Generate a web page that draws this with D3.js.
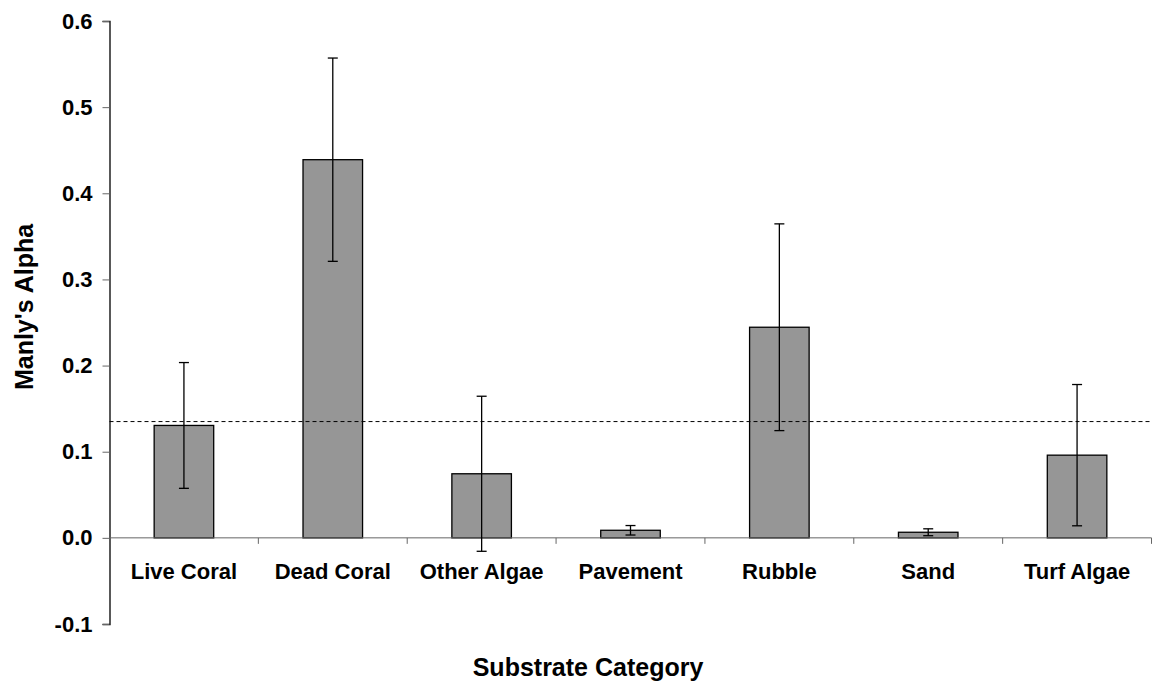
<!DOCTYPE html>
<html>
<head>
<meta charset="utf-8">
<script src="https://cdn.jsdelivr.net/npm/d3@7"></script>
<style>
  html, body { margin: 0; padding: 0; background: #fff; }
  svg text { font-family: "Liberation Sans", Arial, sans-serif; font-weight: bold; fill: #000; }
</style>
</head>
<body>
<svg id="chart" width="1162" height="684"></svg>
<script>
// Substrate selectivity (Manly's alpha) with error half-widths
const categories = ["Live Coral", "Dead Coral", "Other Algae", "Pavement", "Rubble", "Sand", "Turf Algae"];
const alphaValues = [0.1305, 0.439, 0.0744, 0.0088, 0.2445, 0.0065, 0.096];
const errorValues = [0.073, 0.118, 0.090, 0.0055, 0.120, 0.004, 0.082];
const neutralLine = 0.135;
const yTicks = [-0.1, 0.0, 0.1, 0.2, 0.3, 0.4, 0.5, 0.6];

const svg = d3.select("#chart");

const plotLeft = 109.5, plotRight = 1151.5, plotTop = 21, plotBottom = 624;

const y = d3.scaleLinear().domain([-0.1, 0.6]).range([plotBottom, plotTop]);
const x = d3.scaleBand().domain(categories).range([plotLeft, plotRight]).padding(0);
const barW = x.bandwidth() * 0.4;
const capW = 10;
const y0 = y(0);

// Y axis (plain hyphen for negatives)
const yAxis = d3.axisLeft(y)
  .tickValues(yTicks)
  .tickFormat((d) => d.toFixed(1))
  .tickSize(7)
  .tickPadding(10);
const gy = svg.append("g").attr("transform", `translate(${plotLeft},0)`).call(yAxis);
gy.select(".domain").attr("stroke", "#000").attr("stroke-width", 1.3);
gy.selectAll(".tick line").attr("stroke", "#666").attr("stroke-width", 1);
gy.selectAll(".tick text").style("font-size", "22px").attr("fill", "#000");

// Bars
svg.append("g").selectAll("rect")
  .data(categories)
  .join("rect")
  .attr("x", (d) => x(d) + (x.bandwidth() - barW) / 2)
  .attr("y", (d, i) => y(Math.max(0, alphaValues[i])))
  .attr("width", barW)
  .attr("height", (d, i) => Math.abs(y(alphaValues[i]) - y0))
  .attr("fill", "#969696")
  .attr("stroke", "#000")
  .attr("stroke-width", 1.3);

// Category axis at zero
svg.append("line")
  .attr("x1", plotLeft).attr("x2", plotRight)
  .attr("y1", y0).attr("y2", y0)
  .attr("stroke", "#666").attr("stroke-width", 1);
const boundaries = categories.map((d) => x(d) + x.bandwidth());
svg.append("g").selectAll("line")
  .data(boundaries)
  .join("line")
  .attr("x1", (d) => d).attr("x2", (d) => d)
  .attr("y1", y0).attr("y2", y0 + 6)
  .attr("stroke", "#666").attr("stroke-width", 1);

// Reference line
svg.append("line")
  .attr("x1", plotLeft).attr("x2", plotRight)
  .attr("y1", y(neutralLine)).attr("y2", y(neutralLine))
  .attr("stroke", "#000").attr("stroke-width", 1)
  .attr("stroke-dasharray", "4,3");

// Error bars
const eb = svg.append("g").attr("stroke", "#000").attr("stroke-width", 1.3);
categories.forEach((c, i) => {
  const cx = x(c) + x.bandwidth() / 2;
  const hi = y(alphaValues[i] + errorValues[i]);
  const lo = y(alphaValues[i] - errorValues[i]);
  eb.append("line").attr("x1", cx).attr("x2", cx).attr("y1", hi).attr("y2", lo);
  eb.append("line").attr("x1", cx - capW / 2).attr("x2", cx + capW / 2).attr("y1", hi).attr("y2", hi);
  eb.append("line").attr("x1", cx - capW / 2).attr("x2", cx + capW / 2).attr("y1", lo).attr("y2", lo);
});

// Category labels
svg.append("g").selectAll("text")
  .data(categories)
  .join("text")
  .attr("x", (d) => x(d) + x.bandwidth() / 2)
  .attr("y", y0 + 41)
  .attr("text-anchor", "middle")
  .style("font-size", "22px")
  .text((d) => d);

// Axis titles
svg.append("text")
  .attr("x", 588)
  .attr("y", 676)
  .attr("text-anchor", "middle")
  .style("font-size", "25px")
  .text("Substrate Category");

svg.append("text")
  .attr("transform", "translate(33,307) rotate(-90)")
  .attr("text-anchor", "middle")
  .style("font-size", "25px")
  .text("Manly's Alpha");
</script>
</body>
</html>
